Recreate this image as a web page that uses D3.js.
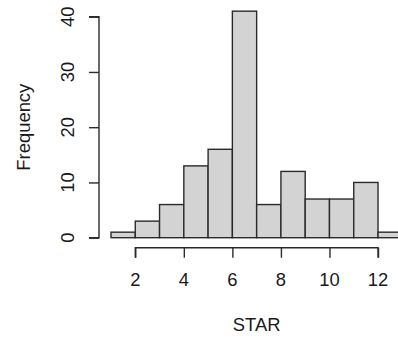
<!DOCTYPE html>
<html>
<head>
<meta charset="utf-8">
<script src="https://cdn.jsdelivr.net/npm/d3@7"></script>
<style>
  html, body { margin: 0; padding: 0; background: #fff; }
  svg { display: block; }
  text { font-family: "Liberation Sans", Arial, sans-serif; fill: #1a1a1a; }
</style>
</head>
<body>
<svg id="chart" width="398" height="339"></svg>
<script>
// Histogram of STAR: bin edges and counts per unit-width bin
const binStarts = [1, 2, 3, 4, 5, 6, 7, 8, 9, 10, 11, 12];
const counts    = [1, 3, 6, 13, 16, 41, 6, 12, 7, 7, 10, 1];
const xTicks    = [2, 4, 6, 8, 10, 12];
const yTicks    = [0, 10, 20, 30, 40];
const xTitle = "STAR";
const yTitle = "Frequency";

const svg = d3.select("#chart");
const W = 398, H = 339;

const x = d3.scaleLinear().domain([1, 13]).range([111, 402.3]);
const y = d3.scaleLinear().domain([0, 40]).range([237.7, 16.7]);

const ink = "#2b2b2b";
const fontSize = 18.4;

// bars
svg.append("g")
  .selectAll("rect")
  .data(binStarts.map((b, i) => ({ x0: b, x1: b + 1, n: counts[i] })))
  .join("rect")
  .attr("x", d => x(d.x0))
  .attr("width", d => x(d.x1) - x(d.x0))
  .attr("y", d => y(d.n))
  .attr("height", d => y(0) - y(d.n))
  .attr("fill", "#d3d3d3")
  .attr("stroke", ink)
  .attr("stroke-width", 1.4);

// x axis (bottom, offset below the bars)
const xAxis = d3.axisBottom(x).tickValues(xTicks).tickSize(10).tickFormat("");
const gx = svg.append("g").attr("transform", "translate(0,247.7)").call(xAxis);
gx.select(".domain").attr("d", `M${x(2)},10V0H${x(12)}V10`);
gx.selectAll("path, line").attr("stroke", ink).attr("stroke-width", 1.4);

svg.append("g").selectAll("text")
  .data(xTicks)
  .join("text")
  .attr("x", d => x(d))
  .attr("y", 285.5)
  .attr("text-anchor", "middle")
  .attr("font-size", fontSize)
  .text(d => d);

// y axis (left, offset from the bars)
const yAxis = d3.axisLeft(y).tickValues(yTicks).tickSize(10).tickFormat("");
const gy = svg.append("g").attr("transform", "translate(99,0)").call(yAxis);
gy.select(".domain").attr("d", `M-10,${y(0)}H0V${y(40)}H-10`);
gy.selectAll("path, line").attr("stroke", ink).attr("stroke-width", 1.4);

svg.append("g").selectAll("text")
  .data(yTicks)
  .join("text")
  .attr("transform", d => `translate(73.5,${y(d)}) rotate(-90)`)
  .attr("text-anchor", "middle")
  .attr("font-size", fontSize)
  .text(d => d);

// axis titles
svg.append("text")
  .attr("x", (x(1) + x(13)) / 2)
  .attr("y", 330.7)
  .attr("text-anchor", "middle")
  .attr("font-size", fontSize)
  .text(xTitle);

svg.append("text")
  .attr("transform", `translate(30,${(y(0) + y(40)) / 2}) rotate(-90)`)
  .attr("text-anchor", "middle")
  .attr("font-size", fontSize)
  .text(yTitle);
</script>
</body>
</html>
